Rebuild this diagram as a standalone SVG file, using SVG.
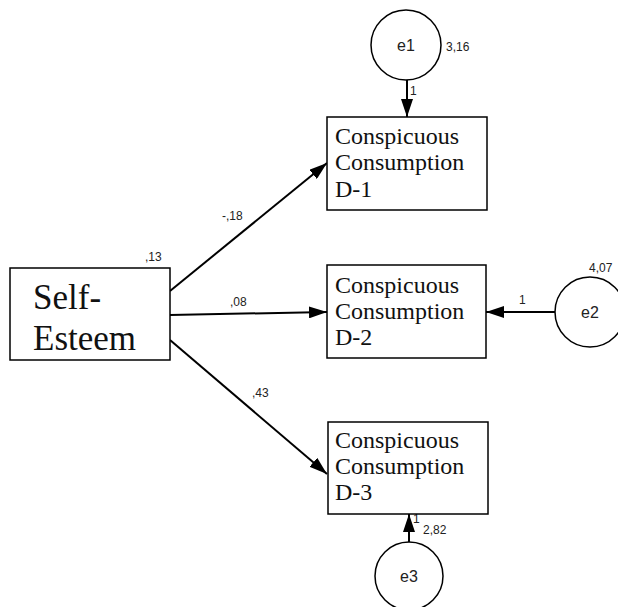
<svg xmlns="http://www.w3.org/2000/svg" width="618" height="607" viewBox="0 0 618 607">
<defs>
<marker id="arr" viewBox="0 0 18 12" refX="18" refY="6" markerWidth="18" markerHeight="12" markerUnits="userSpaceOnUse" orient="auto">
<path d="M0,0 L18,6 L0,12 Z" fill="#000"/>
</marker>
<style>
.box{fill:#fff;stroke:#000;stroke-width:1.5}
.circ{fill:#fff;stroke:#000;stroke-width:1.5}
.node{font-family:"Liberation Serif","Times New Roman",serif;font-size:24px;fill:#111}
.big{font-family:"Liberation Serif","Times New Roman",serif;font-size:35px;fill:#111}
.err{font-family:"Liberation Sans",Arial,sans-serif;font-size:16px;fill:#222;text-anchor:middle}
.lbl{font-family:"Liberation Sans",Arial,sans-serif;font-size:12px;fill:#222}
.edge{stroke:#000;stroke-width:2;fill:none;marker-end:url(#arr)}
</style>
</defs>
<rect width="618" height="607" fill="#fff"/>
<g id="connectors">
<line class="edge" x1="170" y1="291" x2="327" y2="163"/>
<line class="edge" x1="170" y1="315" x2="327" y2="312"/>
<line class="edge" x1="170" y1="340" x2="327" y2="474"/>
<line class="edge" x1="407" y1="80" x2="407" y2="117"/>
<line class="edge" x1="555" y1="312" x2="486" y2="312"/>
<line class="edge" x1="409" y1="542" x2="409" y2="514"/>
<text class="lbl" x="222" y="220">-,18</text>
<text class="lbl" x="230" y="306">,08</text>
<text class="lbl" x="252" y="397">,43</text>
<text class="lbl" x="410" y="95">1</text>
<text class="lbl" x="519" y="304">1</text>
<text class="lbl" x="413" y="523">1</text>
</g>
<g id="self-esteem">
<rect class="box" x="10" y="268" width="160" height="92"/>
<text class="big" x="33" y="309">Self-</text>
<text class="big" x="33" y="350">Esteem</text>
<text class="lbl" x="145" y="261">,13</text>
</g>
<g id="d1">
<rect class="box" x="327" y="117" width="160" height="93"/>
<text class="node" x="335" y="144">Conspicuous</text>
<text class="node" x="335" y="170">Consumption</text>
<text class="node" x="335" y="197">D-1</text>
</g>
<g id="d2">
<rect class="box" x="327" y="265" width="159" height="93"/>
<text class="node" x="335" y="293">Conspicuous</text>
<text class="node" x="335" y="319">Consumption</text>
<text class="node" x="335" y="345">D-2</text>
</g>
<g id="d3">
<rect class="box" x="328" y="422" width="160" height="92"/>
<text class="node" x="335" y="448">Conspicuous</text>
<text class="node" x="335" y="474">Consumption</text>
<text class="node" x="335" y="500">D-3</text>
</g>
<g id="e1">
<circle class="circ" cx="406" cy="45" r="35"/>
<text class="err" x="406" y="51">e1</text>
<text class="lbl" x="446" y="51">3,16</text>
</g>
<g id="e2">
<circle class="circ" cx="590" cy="312" r="35"/>
<text class="err" x="590" y="318">e2</text>
<text class="lbl" x="589" y="272">4,07</text>
</g>
<g id="e3">
<circle class="circ" cx="409" cy="576" r="34"/>
<text class="err" x="409" y="582">e3</text>
<text class="lbl" x="423" y="534">2,82</text>
</g>
</svg>
